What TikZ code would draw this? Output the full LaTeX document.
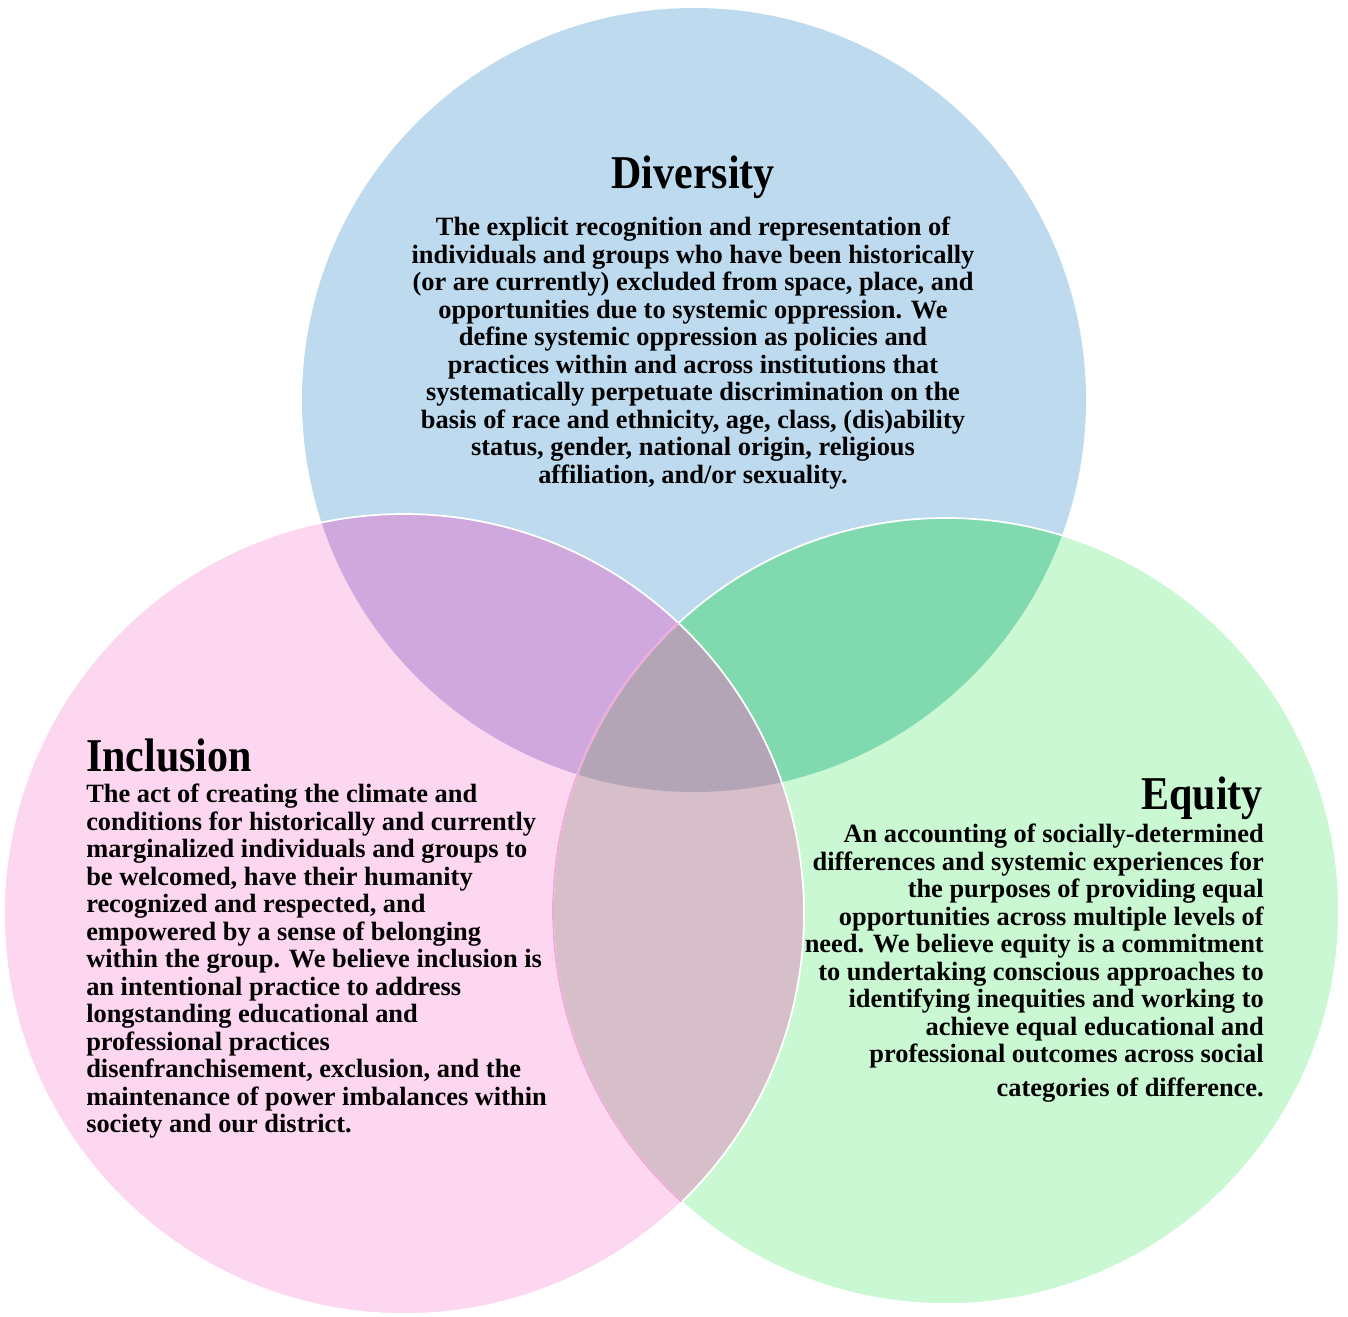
\documentclass[tikz,border=0pt]{standalone}
\usepackage{fontspec}
\setmainfont{Liberation Serif}
\definecolor{divblue}{HTML}{BDDAEE}
\definecolor{incpink}{HTML}{FDD6F0}
\definecolor{equgreen}{HTML}{CAF8D3}
\definecolor{divinc}{HTML}{CFA9DD}
\definecolor{divequ}{HTML}{80D9AF}
\definecolor{incequ}{HTML}{D6BFC9}
\definecolor{allthree}{HTML}{B3A4B6}
\definecolor{pinkline}{HTML}{F3A6D8}
\newcommand{\tallword}[1]{\scalebox{1}[1.12]{#1}}

\begin{document}
\begin{tikzpicture}[x=0.75pt,y=-0.75pt]
        \tikzset{title/.style = {inner sep=0pt,font=\fontsize{31.5}{36}\selectfont\bfseries}};
        \tikzset{body/.style = {inner sep=0pt,font=\fontsize{19.8}{20.6}\selectfont\bfseries}};
        \tikzset{rim/.style = {draw=white,line width=1.3pt}};
        \useasboundingbox (0,0) rectangle (1348,1316);
        \def\cdiv{(694,400) circle[radius=392]}
        \def\cinc{(404,914) circle[radius=400]}
        \def\cequ{(946,911) circle[radius=393]}
        % the three sets
        \fill[divblue] \cdiv;
        \fill[incpink] \cinc;
        \fill[equgreen] \cequ;
        % overlaps
        \begin{scope}
          \clip \cdiv;
          \fill[divinc] \cinc;
          \fill[divequ] \cequ;
        \end{scope}
        \begin{scope}
          \clip \cinc;
          \fill[incequ] \cequ;
        \end{scope}
        \begin{scope}
          \clip \cdiv;
          \clip \cinc;
          \fill[allthree] \cequ;
        \end{scope}
        \draw[rim] \cinc;
        \draw[rim] \cequ;
        \begin{scope}
          \clip \cinc;
          \draw[rim,draw=pinkline] \cequ;
        \end{scope}
        % labels
        \node[title,anchor=base] (divtitle) at (693,189) {\tallword{Diversity}};
        \node[body,align=center,anchor=north] (divtext) at (693,217)
          {The explicit recognition and representation of\\
           individuals and groups who have been historically\\
           (or are currently) excluded from space, place, and\\
           opportunities due to systemic oppression. We\\
           define systemic oppression as policies and\\
           practices within and across institutions that\\
           systematically perpetuate discrimination on the\\
           basis of race and ethnicity, age, class, (dis)ability\\
           status, gender, national origin, religious\\
           affiliation, and/or sexuality.};
        \node[title,anchor=base west] (inctitle) at (86,771) {\tallword{Inclusion}};
        \node[body,align=left,anchor=north west] (inctext) at (86,784)
          {The act of creating the climate and\\
           conditions for historically and currently\\
           marginalized individuals and groups to\\
           be welcomed, have their humanity\\
           recognized and respected, and\\
           empowered by a sense of belonging\\
           within the group. We believe inclusion is\\
           an intentional practice to address\\
           longstanding educational and\\
           professional practices\\
           disenfranchisement, exclusion, and the\\
           maintenance of power imbalances within\\
           society and our district.};
        \node[title,anchor=base east] (equtitle) at (1263,809) {\tallword{Equity}};
        \node[body,align=right,anchor=north east] (equtext) at (1264,824)
          {An accounting of socially-determined\\
           differences and systemic experiences for\\
           the purposes of providing equal\\
           opportunities across multiple levels of\\
           need. We believe equity is a commitment\\
           to undertaking conscious approaches to\\
           identifying inequities and working to\\
           achieve equal educational and\\
           professional outcomes across social\\[5pt]
           categories of difference.};
    \end{tikzpicture}
\end{document}
